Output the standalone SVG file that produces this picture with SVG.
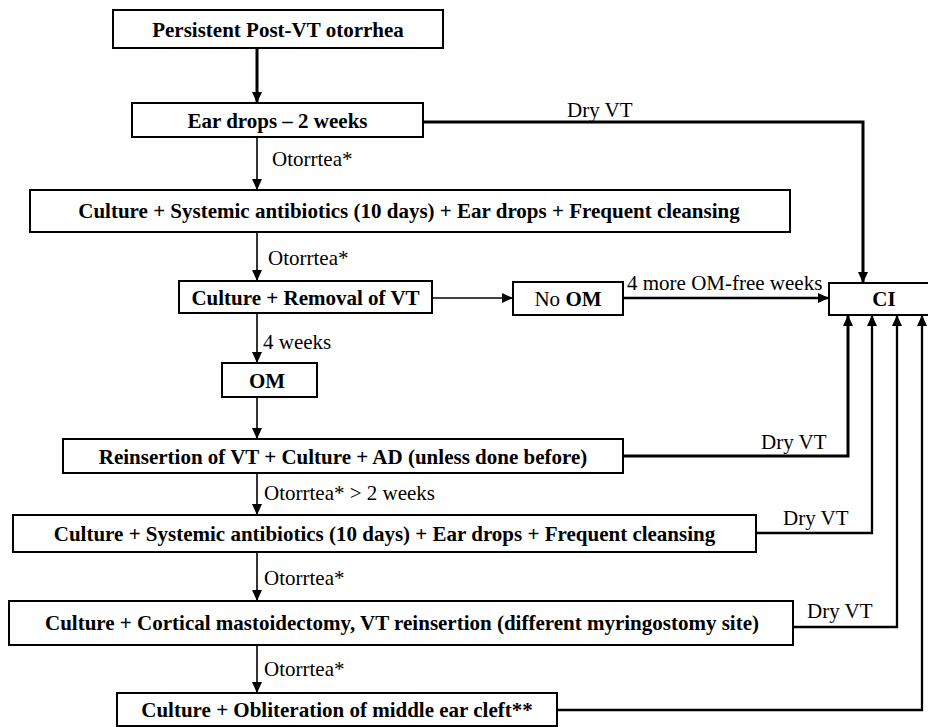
<svg xmlns="http://www.w3.org/2000/svg" width="928" height="727" viewBox="0 0 928 727">
<style>
.box{fill:#fff;stroke:#000;stroke-width:2}
.bt{font-family:"Liberation Serif","Times New Roman",serif;font-size:21px;font-weight:bold;text-anchor:middle;fill:#000}
.lb{font-family:"Liberation Serif","Times New Roman",serif;font-size:21px;fill:#000}
.c{fill:none;stroke:#000;stroke-width:1.6}
.t{fill:none;stroke:#000;stroke-width:3}
.m{fill:none;stroke:#000;stroke-width:2.3}
</style>
<defs>
<marker id="ah" markerUnits="userSpaceOnUse" markerWidth="11" markerHeight="10" refX="11" refY="5" orient="auto">
<path d="M0,0 L11,5 L0,10 z" fill="#000"/>
</marker>
</defs>
<rect width="928" height="727" fill="#fff"/>
<g id="connectors">
<line class="t" x1="257" y1="48" x2="257" y2="103" marker-end="url(#ah)"/>
<polyline class="t" points="423,122 863,122 863,283" marker-end="url(#ah)"/>
<line class="c" x1="257" y1="137" x2="257" y2="190" marker-end="url(#ah)"/>
<line class="c" x1="257" y1="232" x2="257" y2="281" marker-end="url(#ah)"/>
<line class="c" x1="432" y1="298" x2="513" y2="298" marker-end="url(#ah)"/>
<line class="m" x1="623" y1="298" x2="829" y2="298" marker-end="url(#ah)"/>
<line class="c" x1="257" y1="313" x2="257" y2="363" marker-end="url(#ah)"/>
<line class="c" x1="257" y1="397" x2="257" y2="439" marker-end="url(#ah)"/>
<line class="c" x1="257" y1="473" x2="257" y2="515" marker-end="url(#ah)"/>
<line class="c" x1="257" y1="552" x2="257" y2="601" marker-end="url(#ah)"/>
<line class="c" x1="257" y1="645" x2="257" y2="693" marker-end="url(#ah)"/>
<polyline class="t" points="623,456 848,456 848,315" marker-end="url(#ah)"/>
<polyline class="m" points="756,533 872,533 872,315" marker-end="url(#ah)"/>
<polyline class="m" points="793,627 897,627 897,315" marker-end="url(#ah)"/>
<polyline class="m" points="557,710 922,710 922,315" marker-end="url(#ah)"/>
<text class="lb" x="567" y="117">Dry VT</text>
<text class="lb" x="272" y="166">Otorrtea*</text>
<text class="lb" x="268" y="265">Otorrtea*</text>
<text class="lb" x="263" y="349">4 weeks</text>
<text class="lb" x="627" y="290">4 more OM-free weeks</text>
<text class="lb" x="264" y="500">Otorrtea* &gt; 2 weeks</text>
<text class="lb" x="264" y="585">Otorrtea*</text>
<text class="lb" x="264" y="676">Otorrtea*</text>
<text class="lb" x="761" y="449">Dry VT</text>
<text class="lb" x="783" y="525">Dry VT</text>
<text class="lb" x="807" y="618">Dry VT</text>
</g>
<g id="n1"><rect class="box" x="113" y="10" width="330" height="38"/><text class="bt" x="278" y="37">Persistent Post-VT otorrhea</text></g>
<g id="n2"><rect class="box" x="132" y="103" width="291" height="34"/><text class="bt" x="277.5" y="128">Ear drops – 2 weeks</text></g>
<g id="n3"><rect class="box" x="30" y="190" width="760" height="42"/><text class="bt" x="409" y="218">Culture + Systemic antibiotics (10 days) + Ear drops + Frequent cleansing</text></g>
<g id="n4"><rect class="box" x="179" y="281" width="253" height="32"/><text class="bt" x="305.5" y="305">Culture + Removal of VT</text></g>
<g id="n5"><rect class="box" x="513" y="282" width="110" height="33"/><text class="bt" x="568" y="306"><tspan font-weight="normal">No </tspan>OM</text></g>
<g id="n6"><rect class="box" x="829" y="283" width="104" height="32"/><text class="bt" x="884" y="306">CI</text></g>
<g id="n7"><rect class="box" x="222" y="363" width="95" height="34"/><text class="bt" x="267" y="388">OM</text></g>
<g id="n8"><rect class="box" x="63" y="439" width="560" height="34"/><text class="bt" x="343" y="464">Reinsertion of VT + Culture + AD (unless done before)</text></g>
<g id="n9"><rect class="box" x="13" y="515" width="743" height="37"/><text class="bt" x="384.5" y="541">Culture + Systemic antibiotics (10 days) + Ear drops + Frequent cleansing</text></g>
<g id="n10"><rect class="box" x="9" y="601" width="784" height="44"/><text class="bt" x="402" y="630">Culture + Cortical mastoidectomy, VT reinsertion (different myringostomy site)</text></g>
<g id="n11"><rect class="box" x="117" y="693" width="440" height="33"/><text class="bt" x="337" y="717">Culture + Obliteration of middle ear cleft**</text></g>
</svg>
